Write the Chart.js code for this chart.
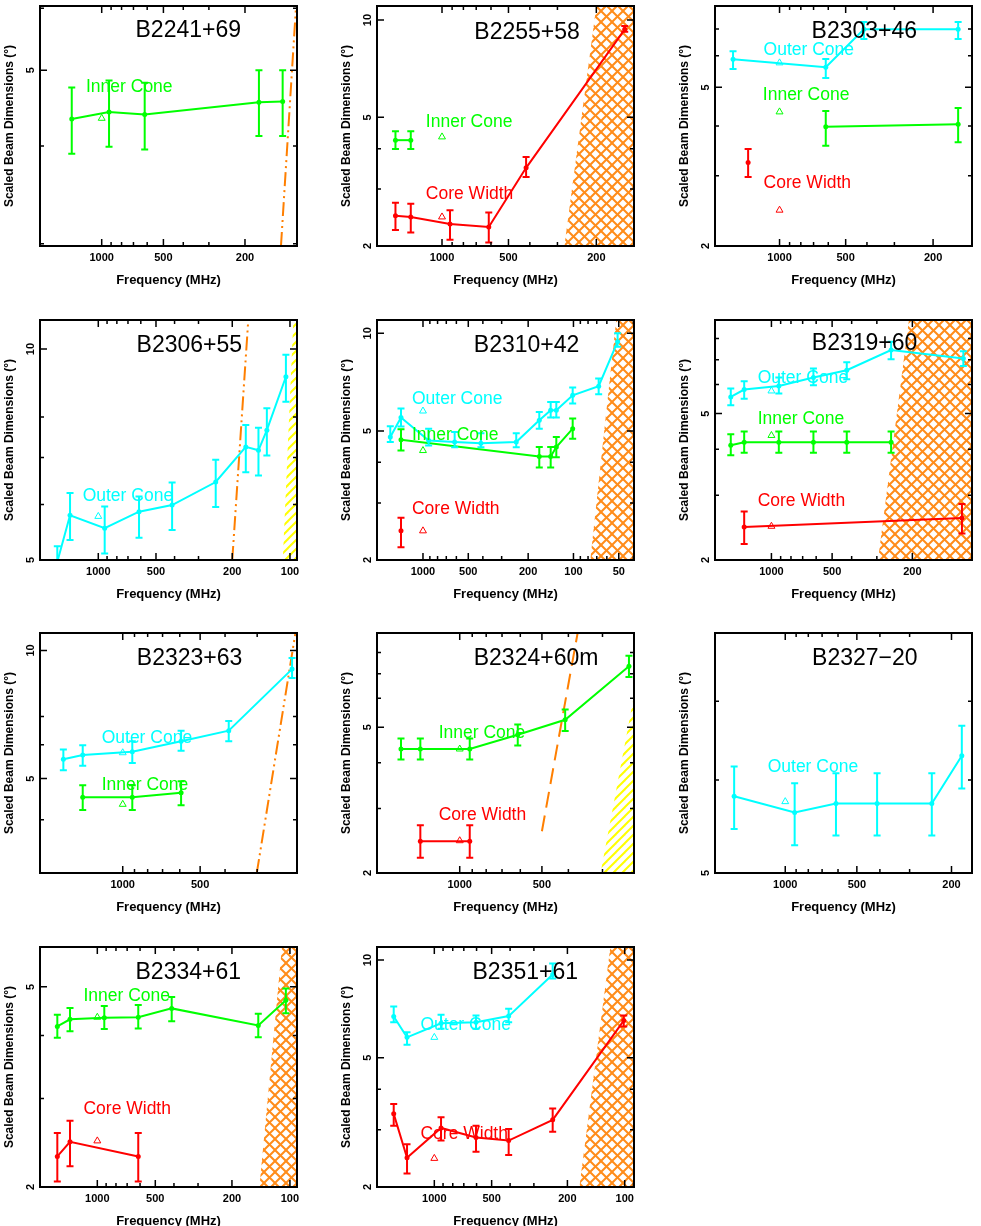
<!DOCTYPE html>
<html>
<head>
<meta charset="utf-8">
<script src="https://cdn.jsdelivr.net/npm/chart.js@4.4.1/dist/chart.umd.min.js"></script>
<style>
    html, body { margin: 0; padding: 0; background: #ffffff; width: 981px; height: 1226px; overflow: hidden; position: relative; }
    canvas.panel { position: absolute; }
</style>
</head>
<body>
<script>
(function() {
    'use strict';

    // Colours (PGPLOT palette)
    var CYAN = '#00ffff';
    var GREEN = '#00ff00';
    var RED = '#ff0000';
    var ORANGE = '#ff7f00';
    var HATCH_ORANGE = '#ff8c1a';
    var YELLOW = '#ffff00';
    var FONT = "'Liberation Sans', Arial, Helvetica, sans-serif";

    // Tick values shared by all panels
    var xLabelTicks = [50, 100, 200, 500, 1000];
    var xMinorTicks = [30, 40, 60, 70, 80, 90, 300, 400, 600, 700, 800, 900];
    var yLabelTicks = [2, 5, 10];
    var refFreq = 1000;

    // ---- B2241+69 ----
    var b2241InnerFreq = [1400, 921, 617, 171, 131];
    var b2241InnerWidth = [4.33, 4.42, 4.39, 4.55, 4.56];
    var b2241InnerLo = [3.91, 3.99, 3.96, 4.12, 4.12];
    var b2241InnerHi = [4.75, 4.85, 4.82, 5.0, 5.0];
    var b2241InnerRef = 4.34;
    var b2241LimitFreq = [133.5, 112.7];
    var b2241LimitWidth = [2.98, 6.04];
    var b2241YMinor = [3, 4, 6];

    // ---- B2255+58 ----
    var b2255InnerFreq = [1625, 1385];
    var b2255InnerWidth = [4.25, 4.25];
    var b2255InnerLo = [3.99, 3.99];
    var b2255InnerHi = [4.53, 4.53];
    var b2255InnerRef = 4.35;
    var b2255CoreFreq = [1625, 1385, 920, 614, 416, 148.7];
    var b2255CoreWidth = [2.48, 2.46, 2.34, 2.29, 3.49, 9.36];
    var b2255CoreLo = [2.24, 2.20, 2.09, 2.05, 3.27, 9.2];
    var b2255CoreHi = [2.72, 2.70, 2.58, 2.54, 3.77, 9.58];
    var b2255CoreRef = 2.46;
    var b2255HatchFreq = [279, 200, 135];
    var b2255HatchWidth = [2, 11.05, 11.05];
    var b2255YMinor = [3, 4];

    // ---- B2303+46 ----
    var b2303OuterFreq = [1628, 616, 413, 153.8];
    var b2303OuterWidth = [5.88, 5.62, 6.99, 6.99];
    var b2303OuterLo = [5.56, 5.28, 6.61, 6.61];
    var b2303OuterHi = [6.16, 5.89, 7.29, 7.29];
    var b2303OuterRef = 5.76;
    var b2303InnerFreq = [616, 153.8];
    var b2303InnerWidth = [3.98, 4.04];
    var b2303InnerLo = [3.57, 3.64];
    var b2303InnerHi = [4.36, 4.44];
    var b2303InnerRef = 4.34;
    var b2303CoreFreq = [1390];
    var b2303CoreWidth = [3.24];
    var b2303CoreLo = [2.98];
    var b2303CoreHi = [3.50];
    var b2303CoreRef = 2.46;
    var b2303YMinor = [3, 4, 6, 7];

    // ---- B2306+55 ----
    var b2306OuterFreq = [1636, 1404, 926, 613, 412, 244, 170, 146, 132, 105];
    var b2306OuterWidth = [4.97, 5.79, 5.55, 5.86, 5.99, 6.46, 7.25, 7.17, 7.66, 9.13];
    var b2306OuterLo = [4.7, 5.34, 5.11, 5.38, 5.52, 5.95, 6.67, 6.60, 7.05, 8.41];
    var b2306OuterHi = [5.23, 6.23, 5.96, 6.16, 6.45, 6.95, 7.79, 7.72, 8.23, 9.81];
    var b2306OuterRef = 5.77;
    var b2306LimitFreq = [200, 165];
    var b2306LimitWidth = [5.0, 11.0];
    var b2306HatchFreq = [109, 96, 91.9];
    var b2306HatchWidth = [5.0, 11.0, 11.0];
    var b2306YMinor = [6, 7, 8];

    // ---- B2310+42 ----
    var b2310OuterFreq = [1649, 1400, 917, 616, 412, 240, 168.7, 141.7, 130, 101.2, 68, 50.9];
    var b2310OuterWidth = [4.79, 5.5, 4.67, 4.62, 4.58, 4.62, 5.39, 5.79, 5.79, 6.44, 6.87, 9.42];
    var b2310OuterLo = [4.62, 5.16, 4.51, 4.45, 4.45, 4.45, 5.08, 5.5, 5.5, 6.07, 6.49, 9.09];
    var b2310OuterHi = [5.17, 5.86, 5.08, 4.96, 4.92, 4.92, 5.72, 6.14, 6.14, 6.8, 7.25, 10.0];
    var b2310OuterRef = 5.76;
    var b2310InnerFreq = [1400, 168.7, 141.7, 130, 101.2];
    var b2310InnerWidth = [4.70, 4.17, 4.17, 4.46, 5.08];
    var b2310InnerLo = [4.35, 3.86, 3.86, 4.15, 4.73];
    var b2310InnerHi = [5.06, 4.46, 4.46, 4.79, 5.46];
    var b2310InnerRef = 4.35;
    var b2310CoreFreq = [1400];
    var b2310CoreWidth = [2.46];
    var b2310CoreLo = [2.19];
    var b2310CoreHi = [2.70];
    var b2310CoreRef = 2.46;
    var b2310HatchFreq = [77.3, 52, 39.6];
    var b2310HatchWidth = [2, 10.99, 10.99];
    var b2310YMinor = [3, 4];

    // ---- B2319+60 ----
    var b2319OuterFreq = [1591, 1365, 919, 619, 423, 255, 111.7];
    var b2319OuterWidth = [5.55, 5.81, 5.94, 6.27, 6.56, 7.44, 7.06];
    var b2319OuterLo = [5.27, 5.49, 5.67, 5.97, 6.2, 7.02, 6.73];
    var b2319OuterHi = [5.85, 6.12, 6.27, 6.63, 6.89, 7.84, 7.39];
    var b2319OuterRef = 5.76;
    var b2319InnerFreq = [1591, 1365, 919, 619, 423, 255];
    var b2319InnerWidth = [4.10, 4.18, 4.18, 4.18, 4.18, 4.18];
    var b2319InnerLo = [3.85, 3.91, 3.91, 3.91, 3.91, 3.91];
    var b2319InnerHi = [4.39, 4.47, 4.47, 4.47, 4.47, 4.47];
    var b2319InnerRef = 4.36;
    var b2319CoreFreq = [1365, 113.5];
    var b2319CoreWidth = [2.46, 2.60];
    var b2319CoreLo = [2.21, 2.36];
    var b2319CoreHi = [2.71, 2.84];
    var b2319CoreRef = 2.47;
    var b2319HatchFreq = [296, 208, 101.2];
    var b2319HatchWidth = [2, 8.98, 8.98];
    var b2319YMinor = [3, 4, 6, 7, 8];

    // ---- B2323+63 ----
    var b2323OuterFreq = [1702, 1431, 918, 593, 387, 219.5];
    var b2323OuterWidth = [5.55, 5.68, 5.78, 6.12, 6.48, 9.04];
    var b2323OuterLo = [5.23, 5.36, 5.44, 5.81, 6.12, 8.61];
    var b2323OuterHi = [5.85, 5.99, 6.12, 6.48, 6.83, 9.6];
    var b2323OuterRef = 5.75;
    var b2323InnerFreq = [1431, 918, 593];
    var b2323InnerWidth = [4.52, 4.52, 4.63];
    var b2323InnerLo = [4.22, 4.22, 4.33];
    var b2323InnerHi = [4.82, 4.82, 4.93];
    var b2323InnerRef = 4.35;
    var b2323LimitFreq = [301, 213];
    var b2323LimitWidth = [3.0, 10.99];
    var b2323YMinor = [4, 6, 7];

    // ---- B2324+60m ----
    var b2324InnerFreq = [1641, 1394, 919, 613, 411, 240];
    var b2324InnerWidth = [4.36, 4.36, 4.36, 4.77, 5.24, 7.34];
    var b2324InnerLo = [4.08, 4.08, 4.08, 4.46, 4.88, 6.86];
    var b2324InnerHi = [4.66, 4.66, 4.66, 5.09, 5.59, 7.83];
    var b2324InnerRef = 4.36;
    var b2324CoreFreq = [1394, 919];
    var b2324CoreWidth = [2.44, 2.44];
    var b2324CoreLo = [2.20, 2.20];
    var b2324CoreHi = [2.70, 2.70];
    var b2324CoreRef = 2.45;
    var b2324LimitFreq = [500, 370];
    var b2324LimitWidth = [2.6, 9.04];
    var b2324HatchFreq = [305, 230];
    var b2324HatchWidth = [2, 6.1];
    var b2324YMinor = [3, 4, 6, 7, 8];

    // ---- B2327-20 ----
    var b2327OuterFreq = [1640, 913, 612, 411, 242, 181];
    var b2327OuterWidth = [5.81, 5.63, 5.73, 5.73, 5.73, 6.29];
    var b2327OuterLo = [5.45, 5.28, 5.38, 5.38, 5.38, 5.90];
    var b2327OuterHi = [6.16, 5.96, 6.08, 6.08, 6.08, 6.67];
    var b2327OuterRef = 5.75;
    var b2327YMinor = [6, 7];

    // ---- B2334+61 ----
    var b2334InnerFreq = [1613, 1386, 920, 613, 411, 146, 105];
    var b2334InnerWidth = [4.17, 4.31, 4.34, 4.35, 4.53, 4.19, 4.70];
    var b2334InnerLo = [3.96, 4.08, 4.12, 4.13, 4.27, 3.97, 4.43];
    var b2334InnerHi = [4.40, 4.54, 4.58, 4.60, 4.77, 4.42, 4.96];
    var b2334InnerRef = 4.35;
    var b2334CoreFreq = [1613, 1386, 613];
    var b2334CoreWidth = [2.30, 2.46, 2.30];
    var b2334CoreLo = [2.05, 2.20, 2.05];
    var b2334CoreHi = [2.56, 2.71, 2.56];
    var b2334CoreRef = 2.47;
    var b2334HatchFreq = [144, 110, 91.9];
    var b2334HatchWidth = [2, 6.0, 6.0];
    var b2334YMinor = [3, 4];

    // ---- B2351+61 ----
    var b2351OuterFreq = [1634, 1391, 922, 604, 407, 239];
    var b2351OuterWidth = [6.70, 5.78, 6.39, 6.43, 6.72, 9.03];
    var b2351OuterLo = [6.43, 5.48, 6.14, 6.14, 6.43, 8.77];
    var b2351OuterHi = [7.2, 5.99, 6.78, 6.75, 7.08, 9.76];
    var b2351OuterRef = 5.78;
    var b2351CoreFreq = [1634, 1391, 922, 604, 407, 239, 101.2];
    var b2351CoreWidth = [3.36, 2.46, 3.04, 2.84, 2.78, 3.22, 6.51];
    var b2351CoreLo = [3.09, 2.20, 2.78, 2.57, 2.51, 2.96, 6.24];
    var b2351CoreHi = [3.60, 2.71, 3.28, 3.09, 3.02, 3.49, 6.75];
    var b2351CoreRef = 2.45;
    var b2351HatchFreq = [173, 119, 89.4];
    var b2351HatchWidth = [2, 10.97, 10.97];
    var b2351YMinor = [3, 4];

    // Grid geometry: canvas origin of each column / row
    var COL_X = [0, 337, 675];
    var ROW_Y = [0, 314, 627, 941];
    var DASH_DOT = [14, 4, 2, 4, 2, 4];
    var DASHED = [16, 8];

    function series(color, f, w, lo, hi, ref) {
        return { color: color, f: f, w: w, lo: lo, hi: hi, ref: ref };
    }

    var panels = [
        { name: 'B2241+69', col: 0, row: 0, xRange: [111.5, 2000], yRange: [2.98, 6.04], yMinor: b2241YMinor,
          series: [series(GREEN, b2241InnerFreq, b2241InnerWidth, b2241InnerLo, b2241InnerHi, b2241InnerRef)],
          lines: [{ f: b2241LimitFreq, w: b2241LimitWidth, dash: DASH_DOT }],
          hatches: [],
          title: [0.577, 0.104],
          labels: [{ text: 'Inner Cone', color: GREEN, at: [0.179, 0.34] }] },
        { name: 'B2255+58', col: 1, row: 0, xRange: [135, 1970], yRange: [2, 11.05], yMinor: b2255YMinor,
          series: [series(GREEN, b2255InnerFreq, b2255InnerWidth, b2255InnerLo, b2255InnerHi, b2255InnerRef),
                   series(RED, b2255CoreFreq, b2255CoreWidth, b2255CoreLo, b2255CoreHi, b2255CoreRef)],
          lines: [],
          hatches: [{ f: b2255HatchFreq, w: b2255HatchWidth, kind: 'cross' }],
          title: [0.584, 0.11],
          labels: [{ text: 'Inner Cone', color: GREEN, at: [0.19, 0.482] },
                   { text: 'Core Width', color: RED, at: [0.19, 0.783] }] },
        { name: 'B2303+46', col: 2, row: 0, xRange: [133, 1967], yRange: [2, 8.0], yMinor: b2303YMinor,
          series: [series(CYAN, b2303OuterFreq, b2303OuterWidth, b2303OuterLo, b2303OuterHi, b2303OuterRef),
                   series(GREEN, b2303InnerFreq, b2303InnerWidth, b2303InnerLo, b2303InnerHi, b2303InnerRef),
                   series(RED, b2303CoreFreq, b2303CoreWidth, b2303CoreLo, b2303CoreHi, b2303CoreRef)],
          lines: [],
          hatches: [],
          title: [0.581, 0.107],
          labels: [{ text: 'Outer Cone', color: CYAN, at: [0.189, 0.183] },
                   { text: 'Inner Cone', color: GREEN, at: [0.186, 0.371] },
                   { text: 'Core Width', color: RED, at: [0.189, 0.739] }] },
        { name: 'B2306+55', col: 0, row: 1, xRange: [91.9, 2014], yRange: [5.0, 11.0], yMinor: b2306YMinor,
          series: [series(CYAN, b2306OuterFreq, b2306OuterWidth, b2306OuterLo, b2306OuterHi, b2306OuterRef)],
          lines: [{ f: b2306LimitFreq, w: b2306LimitWidth, dash: DASH_DOT }],
          hatches: [{ f: b2306HatchFreq, w: b2306HatchWidth, kind: 'slash' }],
          title: [0.581, 0.105],
          labels: [{ text: 'Outer Cone', color: CYAN, at: [0.166, 0.732] }] },
        { name: 'B2310+42', col: 1, row: 1, xRange: [39.6, 2021], yRange: [2, 10.99], yMinor: b2310YMinor,
          series: [series(CYAN, b2310OuterFreq, b2310OuterWidth, b2310OuterLo, b2310OuterHi, b2310OuterRef),
                   series(GREEN, b2310InnerFreq, b2310InnerWidth, b2310InnerLo, b2310InnerHi, b2310InnerRef),
                   series(RED, b2310CoreFreq, b2310CoreWidth, b2310CoreLo, b2310CoreHi, b2310CoreRef)],
          lines: [],
          hatches: [{ f: b2310HatchFreq, w: b2310HatchWidth, kind: 'cross' }],
          title: [0.582, 0.105],
          labels: [{ text: 'Outer Cone', color: CYAN, at: [0.136, 0.328] },
                   { text: 'Inner Cone', color: GREEN, at: [0.136, 0.481] },
                   { text: 'Core Width', color: RED, at: [0.136, 0.788] }] },
        { name: 'B2319+60', col: 2, row: 1, xRange: [101.2, 1905], yRange: [2, 8.98], yMinor: b2319YMinor,
          series: [series(CYAN, b2319OuterFreq, b2319OuterWidth, b2319OuterLo, b2319OuterHi, b2319OuterRef),
                   series(GREEN, b2319InnerFreq, b2319InnerWidth, b2319InnerLo, b2319InnerHi, b2319InnerRef),
                   series(RED, b2319CoreFreq, b2319CoreWidth, b2319CoreLo, b2319CoreHi, b2319CoreRef)],
          lines: [],
          hatches: [{ f: b2319HatchFreq, w: b2319HatchWidth, kind: 'cross' }],
          title: [0.582, 0.098],
          labels: [{ text: 'Outer Cone', color: CYAN, at: [0.166, 0.244] },
                   { text: 'Inner Cone', color: GREEN, at: [0.166, 0.414] },
                   { text: 'Core Width', color: RED, at: [0.166, 0.756] }] },
        { name: 'B2323+63', col: 0, row: 2, xRange: [210, 2098], yRange: [3.0, 10.99], yMinor: b2323YMinor,
          series: [series(CYAN, b2323OuterFreq, b2323OuterWidth, b2323OuterLo, b2323OuterHi, b2323OuterRef),
                   series(GREEN, b2323InnerFreq, b2323InnerWidth, b2323InnerLo, b2323InnerHi, b2323InnerRef)],
          lines: [{ f: b2323LimitFreq, w: b2323LimitWidth, dash: DASH_DOT }],
          hatches: [],
          title: [0.582, 0.106],
          labels: [{ text: 'Outer Cone', color: CYAN, at: [0.24, 0.438] },
                   { text: 'Inner Cone', color: GREEN, at: [0.24, 0.636] }] },
        { name: 'B2324+60m', col: 1, row: 2, xRange: [230, 2009], yRange: [2, 9.04], yMinor: b2324YMinor,
          series: [series(GREEN, b2324InnerFreq, b2324InnerWidth, b2324InnerLo, b2324InnerHi, b2324InnerRef),
                   series(RED, b2324CoreFreq, b2324CoreWidth, b2324CoreLo, b2324CoreHi, b2324CoreRef)],
          lines: [{ f: b2324LimitFreq, w: b2324LimitWidth, dash: DASHED }],
          hatches: [{ f: b2324HatchFreq, w: b2324HatchWidth, kind: 'slash' }],
          title: [0.619, 0.106],
          labels: [{ text: 'Inner Cone', color: GREEN, at: [0.24, 0.416] },
                   { text: 'Core Width', color: RED, at: [0.24, 0.757] }] },
        { name: 'B2327\u221220', col: 2, row: 2, xRange: [164, 1974], yRange: [5.0, 8.0], yMinor: b2327YMinor,
          series: [series(CYAN, b2327OuterFreq, b2327OuterWidth, b2327OuterLo, b2327OuterHi, b2327OuterRef)],
          lines: [],
          hatches: [],
          title: [0.583, 0.106],
          labels: [{ text: 'Outer Cone', color: CYAN, at: [0.205, 0.559] }] },
        { name: 'B2334+61', col: 0, row: 3, xRange: [91.9, 1984], yRange: [2, 6.0], yMinor: b2334YMinor,
          series: [series(GREEN, b2334InnerFreq, b2334InnerWidth, b2334InnerLo, b2334InnerHi, b2334InnerRef),
                   series(RED, b2334CoreFreq, b2334CoreWidth, b2334CoreLo, b2334CoreHi, b2334CoreRef)],
          lines: [],
          hatches: [{ f: b2334HatchFreq, w: b2334HatchWidth, kind: 'cross' }],
          title: [0.577, 0.107],
          labels: [{ text: 'Inner Cone', color: GREEN, at: [0.169, 0.205] },
                   { text: 'Core Width', color: RED, at: [0.169, 0.675] }] },
        { name: 'B2351+61', col: 1, row: 3, xRange: [89.4, 2000], yRange: [2, 10.97], yMinor: b2351YMinor,
          series: [series(CYAN, b2351OuterFreq, b2351OuterWidth, b2351OuterLo, b2351OuterHi, b2351OuterRef),
                   series(RED, b2351CoreFreq, b2351CoreWidth, b2351CoreLo, b2351CoreHi, b2351CoreRef)],
          lines: [],
          hatches: [{ f: b2351HatchFreq, w: b2351HatchWidth, kind: 'cross' }],
          title: [0.577, 0.107],
          labels: [{ text: 'Outer Cone', color: CYAN, at: [0.169, 0.326] },
                   { text: 'Core Width', color: RED, at: [0.169, 0.78] }] }
    ];

    function zip(xs, ys) {
        return xs.map(function(x, i) { return { x: x, y: ys[i] }; });
    }

    /**
     * Small tile for the hatched exclusion regions.
     * 'cross' = orange cross-hatch, 'slash' = yellow single hatch.
     */
    function hatchTile(kind) {
        var s = kind === 'cross' ? 11 : 9;
        var c = document.createElement('canvas');
        c.width = s;
        c.height = s;
        var g = c.getContext('2d');
        g.strokeStyle = kind === 'cross' ? HATCH_ORANGE : YELLOW;
        g.lineWidth = 2;
        [-s, 0, s].forEach(function(o) {
            g.beginPath();
            g.moveTo(o - 1, s + 1);
            g.lineTo(o + s + 1, -1);
            g.stroke();
            if (kind === 'cross') {
                g.beginPath();
                g.moveTo(o - 1, -1);
                g.lineTo(o + s + 1, s + 1);
                g.stroke();
            }
        });
        return c;
    }

    /**
     * PGPLOT-like frame: error bars, inward ticks on all sides,
     * rotated y labels, panel title and curve labels.
     */
    function pgplotPlugin(p) {
        return {
            id: 'pgplot',
            afterDatasetsDraw: function(chart) {
                var ctx = chart.ctx;
                var a = chart.chartArea;
                var xs = chart.scales.x;
                var ys = chart.scales.y;
                var w = a.right - a.left;
                var h = a.bottom - a.top;

                // Error bars (clipped to the plot box)
                ctx.save();
                ctx.beginPath();
                ctx.rect(a.left, a.top, w, h);
                ctx.clip();
                chart.data.datasets.forEach(function(ds) {
                    if (!ds.errLo) return;
                    ctx.strokeStyle = ds.borderColor;
                    ctx.lineWidth = 2;
                    ds.data.forEach(function(pt, i) {
                        var x = xs.getPixelForValue(pt.x);
                        var y1 = ys.getPixelForValue(ds.errLo[i]);
                        var y2 = ys.getPixelForValue(ds.errHi[i]);
                        ctx.beginPath();
                        ctx.moveTo(x, y1); ctx.lineTo(x, y2);
                        ctx.moveTo(x - 3.5, y1); ctx.lineTo(x + 3.5, y1);
                        ctx.moveTo(x - 3.5, y2); ctx.lineTo(x + 3.5, y2);
                        ctx.stroke();
                    });
                });
                ctx.restore();

                // Curve labels and title
                ctx.save();
                ctx.textBaseline = 'middle';
                ctx.textAlign = 'left';
                ctx.font = '17.5px ' + FONT;
                p.labels.forEach(function(l) {
                    ctx.fillStyle = l.color;
                    ctx.fillText(l.text, a.left + l.at[0] * w, a.top + l.at[1] * h);
                });
                ctx.textAlign = 'center';
                ctx.fillStyle = '#000000';
                ctx.font = '23px ' + FONT;
                ctx.fillText(p.name, a.left + p.title[0] * w, a.top + p.title[1] * h);
                ctx.restore();

                // Frame
                ctx.save();
                ctx.strokeStyle = '#000000';
                ctx.lineWidth = 2;
                ctx.strokeRect(a.left, a.top, w, h);

                // Inward tick marks on all four sides
                ctx.lineWidth = 1.5;
                ctx.beginPath();
                xLabelTicks.concat(xMinorTicks).forEach(function(v) {
                    if (v <= xs.min || v >= xs.max) return;
                    var len = xLabelTicks.indexOf(v) >= 0 ? 7 : 4;
                    var x = xs.getPixelForValue(v);
                    ctx.moveTo(x, a.bottom); ctx.lineTo(x, a.bottom - len);
                    ctx.moveTo(x, a.top); ctx.lineTo(x, a.top + len);
                });
                yLabelTicks.concat(p.yMinor).forEach(function(v) {
                    if (v <= ys.min || v >= ys.max) return;
                    var len = yLabelTicks.indexOf(v) >= 0 ? 7 : 4;
                    var y = ys.getPixelForValue(v);
                    ctx.moveTo(a.left, y); ctx.lineTo(a.left + len, y);
                    ctx.moveTo(a.right, y); ctx.lineTo(a.right - len, y);
                });
                ctx.stroke();

                // Y tick labels, written along the axis
                ctx.fillStyle = '#000000';
                ctx.font = 'bold 11px ' + FONT;
                ctx.textAlign = 'center';
                ctx.textBaseline = 'middle';
                yLabelTicks.forEach(function(v) {
                    if (v < ys.min * 0.999 || v > ys.max * 1.001) return;
                    ctx.save();
                    ctx.translate(a.left - 9.5, ys.getPixelForValue(v));
                    ctx.rotate(-Math.PI / 2);
                    ctx.fillText(String(v), 0, 0);
                    ctx.restore();
                });
                ctx.restore();
            }
        };
    }

    function buildPanel(p) {
        var canvas = document.createElement('canvas');
        canvas.className = 'panel';
        canvas.width = 327;
        canvas.height = 310;
        canvas.style.left = COL_X[p.col] + 'px';
        canvas.style.top = ROW_Y[p.row] + 'px';
        document.body.appendChild(canvas);
        var ctx = canvas.getContext('2d');

        var datasets = [];
        p.hatches.forEach(function(hz) {
            datasets.push({
                data: zip(hz.f, hz.w),
                fill: 'start',
                backgroundColor: ctx.createPattern(hatchTile(hz.kind), 'repeat'),
                borderWidth: 0,
                pointRadius: 0,
                order: 10
            });
        });
        p.lines.forEach(function(ln) {
            datasets.push({
                data: zip(ln.f, ln.w),
                borderColor: ORANGE,
                borderWidth: 2,
                borderDash: ln.dash,
                pointRadius: 0,
                fill: false,
                order: 5
            });
        });
        p.series.forEach(function(s) {
            datasets.push({
                data: zip(s.f, s.w),
                borderColor: s.color,
                borderWidth: 2,
                pointRadius: 2.5,
                pointBorderWidth: 0,
                pointBackgroundColor: s.color,
                fill: false,
                errLo: s.lo,
                errHi: s.hi,
                order: 2
            });
            datasets.push({
                data: [{ x: refFreq, y: s.ref }],
                showLine: false,
                pointStyle: 'triangle',
                pointRadius: 4,
                pointBorderWidth: 1,
                pointBorderColor: s.color,
                pointBackgroundColor: 'rgba(0,0,0,0)',
                order: 1
            });
        });

        new Chart(ctx, {
            type: 'line',
            data: { datasets: datasets },
            options: {
                responsive: false,
                animation: false,
                devicePixelRatio: 1,
                layout: { padding: { left: 0, right: 30, top: 6, bottom: 0 } },
                plugins: {
                    legend: { display: false },
                    tooltip: { enabled: false }
                },
                scales: {
                    x: {
                        type: 'logarithmic',
                        reverse: true,
                        min: p.xRange[0],
                        max: p.xRange[1],
                        grid: { display: false, drawTicks: false },
                        border: { display: false },
                        afterBuildTicks: function(axis) {
                            axis.ticks = xLabelTicks.filter(function(v) {
                                return v >= p.xRange[0] && v <= p.xRange[1];
                            }).map(function(v) { return { value: v }; });
                        },
                        afterFit: function(axis) { axis.height = 64; },
                        ticks: {
                            autoSkip: false,
                            maxRotation: 0,
                            minRotation: 0,
                            padding: 5,
                            color: '#000000',
                            font: { family: FONT, size: 11, weight: 'bold' },
                            callback: function(v) { return String(v); }
                        },
                        title: {
                            display: true,
                            text: 'Frequency (MHz)',
                            color: '#000000',
                            font: { family: FONT, size: 13, weight: 'bold' },
                            padding: { top: 0, bottom: 22 }
                        }
                    },
                    y: {
                        type: 'logarithmic',
                        min: p.yRange[0],
                        max: p.yRange[1],
                        grid: { display: false, drawTicks: false },
                        border: { display: false },
                        ticks: { display: false },
                        afterFit: function(axis) { axis.width = 40; },
                        title: {
                            display: true,
                            text: 'Scaled Beam Dimensions (\u00b0)',
                            color: '#000000',
                            font: { family: FONT, size: 12, weight: 'bold' },
                            padding: { top: 2, bottom: 0 }
                        }
                    }
                }
            },
            plugins: [pgplotPlugin(p)]
        });
    }

    panels.forEach(buildPanel);
})();
</script>
</body>
</html>
